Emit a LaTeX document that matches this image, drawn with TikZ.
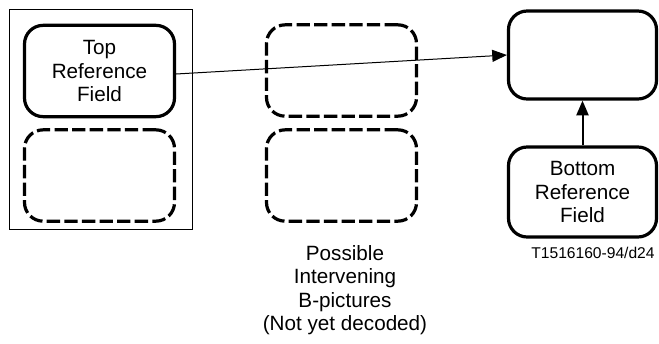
\documentclass[tikz,border=0pt]{standalone}
\usepackage{fontspec}
\setmainfont{Liberation Sans}
\usetikzlibrary{arrows.meta}

\begin{document}
\begin{tikzpicture}[x=0.75pt,y=0.75pt,yscale=-1,xscale=1,
	field/.style={draw,line width=2.4pt,rounded corners=14pt,minimum width=112.5pt,minimum height=68.5pt,inner sep=0pt,align=center,font=\fontsize{15.5}{17.5}\selectfont},
	pending/.style={field,dash pattern=on 10pt off 3.2pt},
	link/.style={-{Triangle[length=11pt,width=9pt]}}]
	\useasboundingbox (0,0) rectangle (659,343);
	\draw [line width=0.6pt] (9,9) rectangle (192,229);
	\node [field] (tref) at (99.5,71) {Top\\Reference\\Field};
	\node [pending] (tlow) at (99.5,175.5) {};
	\node [pending] (bup) at (341.5,70.5) {};
	\node [pending] (blow) at (341.5,175.5) {};
	\node [field,minimum width=111pt,minimum height=66pt] (cur) at (582.5,55) {};
	\node [field,minimum width=111pt,minimum height=67.5pt] (bref) at (582.5,192) {Bottom\\Reference\\Field};
	\draw [link,line width=0.75pt] ([yshift=2.25pt]tref.east) -- (cur.west);
	\draw [link,line width=1.5pt] (bref.north) -- (cur.south);
	\node [align=center,font=\fontsize{15.5}{17.5}\selectfont] (bpic) at (345,290) {Possible\\Intervening\\B-pictures\\(Not yet decoded)};
	\node [font=\fontsize{11.7}{14}\selectfont] (code) at (593,253) {T1516160-94/d24};
\end{tikzpicture}
\end{document}
